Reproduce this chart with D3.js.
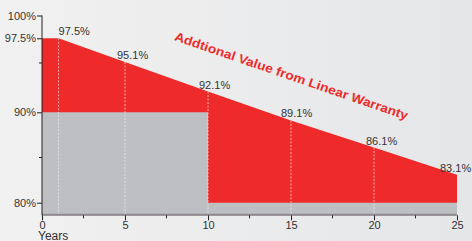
<!DOCTYPE html>
<html lang="en">
<head>
    <meta charset="UTF-8">
    <title>Linear Warranty</title>
    <script src="https://d3js.org/d3.v7.min.js"></script>
    <style>
        body { margin: 0; }
        text { font-family: "Liberation Sans", Arial, sans-serif; }
    </style>
</head>
    <body>
        <script>
            // linear warranty curve
            const years = [0, 1, 5, 10, 15, 20, 25]
            const linearValues = [97.5, 97.5, 95.1, 92.1, 89.1, 86.1, 83.1]

            // labelled points
            const labelYears = [1, 5, 10, 15, 20, 25]
            const labelValues = [97.5, 95.1, 92.1, 89.1, 86.1, 83.1]
            const labelText = ['97.5%', '95.1%', '92.1%', '89.1%', '86.1%', '83.1%']

            // step warranty
            const stepYears = [0, 10, 25]
            const stepValues = [90, 80, 80]

            // axis ticks
            const xTicks = [0, 5, 10, 15, 20, 25]
            const xMinorTicks = [2.5, 7.5, 12.5, 17.5, 22.5]
            const yTicks = [100, 97.5, 90, 80]
            const yTickLabels = ['100%', '97.5%', '90%', '80%']
            const yMinorTicks = [95, 85]
            const gridYears = [1, 5, 10, 15, 20]

            const width = 472
            const height = 241
            const yBottom = 78.6

            let xScale = d3.scaleLinear()
                .domain([0, 25])
                .range([42, 457])

            // the original chart is not quite linear, so map it piecewise
            let yScale = d3.scaleLinear()
                .domain([80, 90, 97.5, 100])
                .range([202.7, 112.3, 38.3, 15.5])

            let svg = d3.select('body').append('svg').attr('width', width).attr('height', height)

            let grad = svg.append('defs').append('linearGradient')
                .attr('id', 'bg')
            grad.append('stop').attr('offset', '0%').attr('stop-color', '#f1f1f1')
            grad.append('stop').attr('offset', '100%').attr('stop-color', '#e5e6e8')

            svg.append('rect')
                .attr('width', width)
                .attr('height', height)
                .style('fill', 'url(#bg)')

            const lineData = years.map((y, i) => ({ year: y, value: linearValues[i] }))
            const stepData = stepYears.map((y, i) => ({ year: y, value: stepValues[i] }))

            let area = d3.area()
                .x(d => xScale(d.year))
                .y0(yScale(yBottom))
                .y1(d => yScale(d.value))

            svg.append('path')
                .datum(lineData)
                .attr('d', area)
                .style('fill', '#ee2b2a')

            svg.append('path')
                .datum(stepData)
                .attr('d', area.curve(d3.curveStepAfter))
                .style('fill', '#bebfc3')

            // dashed guide lines
            svg.append('g')
                .selectAll('line')
                .data(gridYears)
                .join('line')
                .attr('x1', d => xScale(d))
                .attr('x2', d => xScale(d))
                .attr('y1', d => yScale(linearValues[years.indexOf(d)]))
                .attr('y2', yScale(yBottom))
                .style('stroke', '#f4f4f4')
                .style('stroke-width', 0.8)
                .style('stroke-dasharray', '2,1.5')
                .style('opacity', 0.85)

            // bottom band
            svg.append('line')
                .attr('x1', xScale(0))
                .attr('x2', xScale(25))
                .attr('y1', yScale(yBottom) - 0.5)
                .attr('y2', yScale(yBottom) - 0.5)
                .style('stroke', '#8a8b8e')
                .style('stroke-width', 2)

            // value labels
            const labelShift = [0, -8, -9, -10, -8, -17]
            svg.append('g')
                .selectAll('text')
                .data(labelYears)
                .join('text')
                .attr('x', (d, i) => xScale(d) + labelShift[i])
                .attr('y', (d, i) => yScale(labelValues[i]) - 3)
                .text((d, i) => labelText[i])
                .style('font-size', '11px')
                .style('fill', '#333')

            // x axis
            let xAxis = svg.append('g')
                .attr('transform', `translate(0,${ yScale(yBottom) })`)
            xAxis.call(d3.axisBottom(xScale).tickValues(xTicks).tickSize(5).tickPadding(1).tickFormat(d3.format('d')))
            xAxis.select('.domain').remove()
            xAxis.selectAll('.tick line').style('stroke', '#222')
            xAxis.selectAll('.tick text').style('font-size', '11px').style('fill', '#333')
                .style('font-family', '"Liberation Sans", Arial, sans-serif')
            xAxis.selectAll('.minor')
                .data(xMinorTicks)
                .join('line')
                .attr('class', 'minor')
                .attr('x1', d => xScale(d))
                .attr('x2', d => xScale(d))
                .attr('y1', 0)
                .attr('y2', 3)
                .style('stroke', '#222')

            svg.append('text')
                .attr('x', 38)
                .attr('y', 240)
                .text('Years')
                .style('font-size', '12px')
                .style('fill', '#333')

            // y axis
            let yAxis = svg.append('g')
                .attr('transform', `translate(${ xScale(0) },0)`)
            yAxis.call(d3.axisLeft(yScale).tickValues(yTicks).tickSize(5).tickPadding(1)
                .tickFormat((d, i) => yTickLabels[i]))
            yAxis.select('.domain')
                .attr('d', `M0,${ yScale(100) }V${ yScale(yBottom) }`)
                .style('stroke', '#222')
            yAxis.selectAll('.tick line').style('stroke', '#222')
            yAxis.selectAll('.tick text').style('font-size', '11px').style('fill', '#333')
                .style('font-family', '"Liberation Sans", Arial, sans-serif')
            yAxis.selectAll('.minor')
                .data(yMinorTicks)
                .join('line')
                .attr('class', 'minor')
                .attr('x1', -3)
                .attr('x2', 0)
                .attr('y1', d => yScale(d))
                .attr('y2', d => yScale(d))
                .style('stroke', '#222')

            // annotation
            svg.append('text')
                .attr('transform', 'translate(290,80) rotate(19)')
                .attr('text-anchor', 'middle')
                .attr('textLength', 246)
                .attr('lengthAdjust', 'spacingAndGlyphs')
                .text('Addtional Value from Linear Warranty')
                .style('font-size', '12.5px')
                .style('font-weight', 'bold')
                .style('fill', '#ee2b2a')

        </script>
    </body>
</html>
